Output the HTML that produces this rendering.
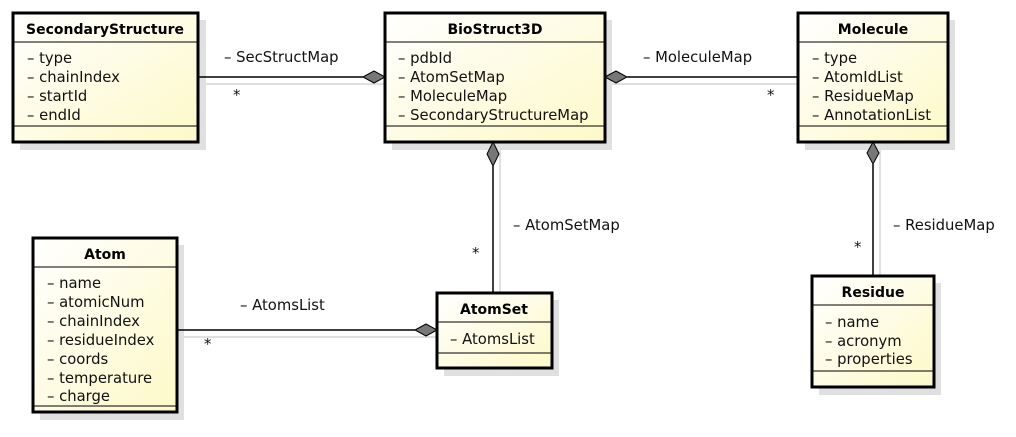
<!DOCTYPE html>
<html><head><meta charset="utf-8"><style>
html,body{margin:0;padding:0;background:#fff;}
svg{display:block;font-family:"DejaVu Sans","Liberation Sans",sans-serif;}
.t{font-size:14.8px;fill:#111;}
.b{font-size:14px;font-weight:bold;fill:#000;}
</style></head><body>
<svg width="1016" height="437" viewBox="0 0 1016 437">
<defs>
<linearGradient id="g" x1="0" y1="0" x2="1" y2="1">
<stop offset="0" stop-color="#ffffff"/><stop offset="1" stop-color="#fdf9c8"/>
</linearGradient>
</defs>
<g fill="#e0e0e0">
<rect x="20" y="20" width="186" height="130"/>
<rect x="392" y="20" width="220" height="130"/>
<rect x="805" y="20" width="150" height="130"/>
<rect x="40" y="245" width="144" height="175"/>
<rect x="444" y="300" width="115" height="76"/>
<rect x="819" y="283" width="122" height="112"/>
</g>
<g stroke="#e0e0e0" stroke-width="2" fill="none">
<line x1="200" y1="84" x2="385" y2="84"/>
<line x1="612" y1="84" x2="798" y2="84"/>
<line x1="500" y1="150" x2="500" y2="293"/>
<line x1="180" y1="337" x2="437" y2="337"/>
<line x1="880" y1="150" x2="880" y2="276"/>
</g>
<g stroke="#000" stroke-width="1.5" fill="none">
<line x1="198" y1="77" x2="363" y2="77"/>
<line x1="627" y1="77" x2="798" y2="77"/>
<line x1="493" y1="166" x2="493" y2="293"/>
<line x1="177" y1="330" x2="415" y2="330"/>
<line x1="873" y1="164" x2="873" y2="276"/>
</g>
<g fill="#777" stroke="#000" stroke-width="1">
<polygon points="363,77 374,71 385,77 374,83"/>
<polygon points="605,77 616,71 627,77 616,83"/>
<polygon points="493,142 499,154 493,166 487,154"/>
<polygon points="415,330 426,324 437,330 426,336"/>
<polygon points="873,142 879,153 873,164 867,153"/>
</g>
<g fill="url(#g)" stroke="#000" stroke-width="3">
<rect x="13" y="13" width="185" height="129"/>
<rect x="385" y="13" width="220" height="129"/>
<rect x="798" y="13" width="150" height="129"/>
<rect x="33" y="238" width="144" height="174"/>
<rect x="437" y="293" width="115" height="75"/>
<rect x="812" y="276" width="122" height="111"/>
</g>
<g stroke="#000" stroke-width="1">
<line x1="13" y1="42" x2="198" y2="42"/><line x1="13" y1="126" x2="198" y2="126"/>
<line x1="385" y1="42" x2="605" y2="42"/><line x1="385" y1="126" x2="605" y2="126"/>
<line x1="798" y1="42" x2="948" y2="42"/><line x1="798" y1="126" x2="948" y2="126"/>
<line x1="33" y1="267" x2="177" y2="267"/><line x1="33" y1="406" x2="177" y2="406"/>
<line x1="437" y1="322" x2="552" y2="322"/><line x1="437" y1="353" x2="552" y2="353"/>
<line x1="812" y1="305" x2="934" y2="305"/><line x1="812" y1="371" x2="934" y2="371"/>
</g>
<text class="b" x="105" y="34" text-anchor="middle">SecondaryStructure</text>
<text class="b" x="495" y="34" text-anchor="middle">BioStruct3D</text>
<text class="b" x="873" y="34" text-anchor="middle">Molecule</text>
<text class="b" x="105" y="259" text-anchor="middle">Atom</text>
<text class="b" x="494" y="314" text-anchor="middle">AtomSet</text>
<text class="b" x="873" y="297" text-anchor="middle">Residue</text>
<text class="t" x="27" y="63">– type</text>
<text class="t" x="27" y="82">– chainIndex</text>
<text class="t" x="27" y="101">– startId</text>
<text class="t" x="27" y="120">– endId</text>
<text class="t" x="398" y="63">– pdbId</text>
<text class="t" x="398" y="82">– AtomSetMap</text>
<text class="t" x="398" y="101">– MoleculeMap</text>
<text class="t" x="398" y="120">– SecondaryStructureMap</text>
<text class="t" x="812" y="63">– type</text>
<text class="t" x="812" y="82">– AtomIdList</text>
<text class="t" x="812" y="101">– ResidueMap</text>
<text class="t" x="812" y="120">– AnnotationList</text>
<text class="t" x="47" y="288">– name</text>
<text class="t" x="47" y="307">– atomicNum</text>
<text class="t" x="47" y="326">– chainIndex</text>
<text class="t" x="47" y="345">– residueIndex</text>
<text class="t" x="47" y="364">– coords</text>
<text class="t" x="47" y="383">– temperature</text>
<text class="t" x="47" y="401">– charge</text>
<text class="t" x="450" y="344">– AtomsList</text>
<text class="t" x="825" y="327">– name</text>
<text class="t" x="825" y="346">– acronym</text>
<text class="t" x="825" y="364">– properties</text>
<text class="t" x="224" y="62">– SecStructMap</text>
<text class="t" x="233" y="100">*</text>
<text class="t" x="643" y="62">– MoleculeMap</text>
<text class="t" x="767" y="100">*</text>
<text class="t" x="513" y="230">– AtomSetMap</text>
<text class="t" x="472" y="258">*</text>
<text class="t" x="240" y="310">– AtomsList</text>
<text class="t" x="204" y="349">*</text>
<text class="t" x="893" y="230">– ResidueMap</text>
<text class="t" x="854" y="252">*</text>
</svg>
</body></html>
